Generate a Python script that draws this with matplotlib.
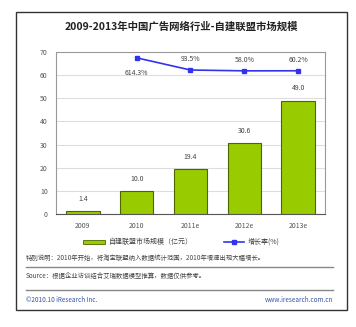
import matplotlib
matplotlib.use("Agg")
import matplotlib.pyplot as plt
from matplotlib.patches import Rectangle
from matplotlib.lines import Line2D

plt.rcParams['font.family'] = ['Noto Sans CJK SC', 'DejaVu Sans']

categories = ["2009", "2010", "2011e", "2012e", "2013e"]
market = [1.4, 10.0, 19.4, 30.6, 49.0]
growth_cats = ["2010", "2011e", "2012e", "2013e"]
growth = [614.3, 93.5, 58.0, 60.2]
yticks = [0, 10, 20, 30, 40, 50, 60, 70]

W, H = 356, 327
fig = plt.figure(figsize=(W / 100, H / 100), dpi=100)
fig.patch.set_facecolor("white")

def fx(px):
    return px / W

def fy(py):
    return 1 - py / H

# outer frame
fig.add_artist(Rectangle((fx(16), fy(310)), fx(347) - fx(16), fy(12) - fy(310),
                         transform=fig.transFigure, fill=False, edgecolor="#333333", lw=1.0))

fig.text(fx(181), fy(27), "2009-2013年中国广告网络行业-自建联盟市场规模", ha="center", va="center",
         fontsize=7.5, fontweight="bold", color="#222222")

left, right, top, bottom = 56, 325, 52, 214
ax = fig.add_axes([fx(left), fy(bottom), fx(right) - fx(left), fy(top) - fy(bottom)])
x = list(range(len(categories)))
ax.bar(x, market, width=0.62, color="#99CC00", edgecolor="#4d6600", linewidth=0.8, zorder=3)
for xi, v in zip(x, market):
    ax.text(xi, v + 3.5, f"{v:.1f}", ha="center", va="bottom", fontsize=5, color="#444444")
ax.set_ylim(0, 70)
ax.set_xlim(-0.5, len(categories) - 0.5)
ax.set_yticks(yticks)
ax.set_yticklabels([str(t) for t in yticks], fontsize=5, color="#555555")
ax.set_xticks(x)
ax.set_xticklabels(categories, fontsize=5, color="#555555")
ax.tick_params(length=0, pad=6)
ax.yaxis.grid(True, color="#dddddd", lw=0.8, zorder=0)
for s in ax.spines.values():
    s.set_color("#999999")
    s.set_linewidth(0.8)
ax.spines['bottom'].set_color("#555555")

ax2 = ax.twinx()
gx = [categories.index(c) for c in growth_cats]
ax2.plot(gx, growth, color="#3333ee", lw=1.2, marker="s", markersize=3.2, zorder=4)
ax2.set_ylim(-6065, 864)
ax2.set_yticks([])
for s in ax2.spines.values():
    s.set_visible(False)
for xi, g in zip(gx, growth):
    if g > 300:
        ax2.annotate(f"{g:.1f}%", (xi, g), xytext=(0, -8), textcoords="offset points",
                     ha="center", va="top", fontsize=5, color="#444444")
    else:
        ax2.annotate(f"{g:.1f}%", (xi, g), xytext=(0, 5), textcoords="offset points",
                     ha="center", va="bottom", fontsize=5, color="#444444")

# legend
fig.add_artist(Rectangle((fx(83), fy(244)), fx(22) - fx(0), fy(240) - fy(244),
                         transform=fig.transFigure, facecolor="#99CC00", edgecolor="#4d6600", lw=0.6))
fig.text(fx(109), fy(242), "自建联盟市场规模（亿元）", ha="left", va="center", fontsize=5, color="#444444")
fig.add_artist(Line2D([fx(224), fx(244)], [fy(242), fy(242)], transform=fig.transFigure,
                      color="#3333ee", lw=1.2))
fig.add_artist(Line2D([fx(234)], [fy(242)], transform=fig.transFigure,
                      color="#3333ee", marker="s", markersize=3, lw=0))
fig.text(fx(248), fy(242), "增长率(%)", ha="left", va="center", fontsize=5, color="#444444")

fig.text(fx(26), fy(258), "特别说明：2010年开始，将淘宝联盟纳入数据统计范围，2010年增速出现大幅增长。",
         ha="left", va="center", fontsize=4.6, color="#444444")
fig.add_artist(Line2D([fx(26), fx(333)], [fy(267), fy(267)], transform=fig.transFigure, color="#888888", lw=1.0))
fig.text(fx(26), fy(276), "Source：根据企业访谈结合艾瑞数据模型推算，数据仅供参考。",
         ha="left", va="center", fontsize=4.6, color="#444444")
fig.add_artist(Line2D([fx(26), fx(333)], [fy(290), fy(290)], transform=fig.transFigure, color="#888888", lw=1.0))
fig.text(fx(26), fy(300), "©2010.10 iResearch Inc.", ha="left", va="center", fontsize=4.6, color="#3355aa")
fig.text(fx(333), fy(300), "www.iresearch.com.cn", ha="right", va="center", fontsize=4.6, color="#3355aa")

fig.savefig("out.png", dpi=100, facecolor="white")
